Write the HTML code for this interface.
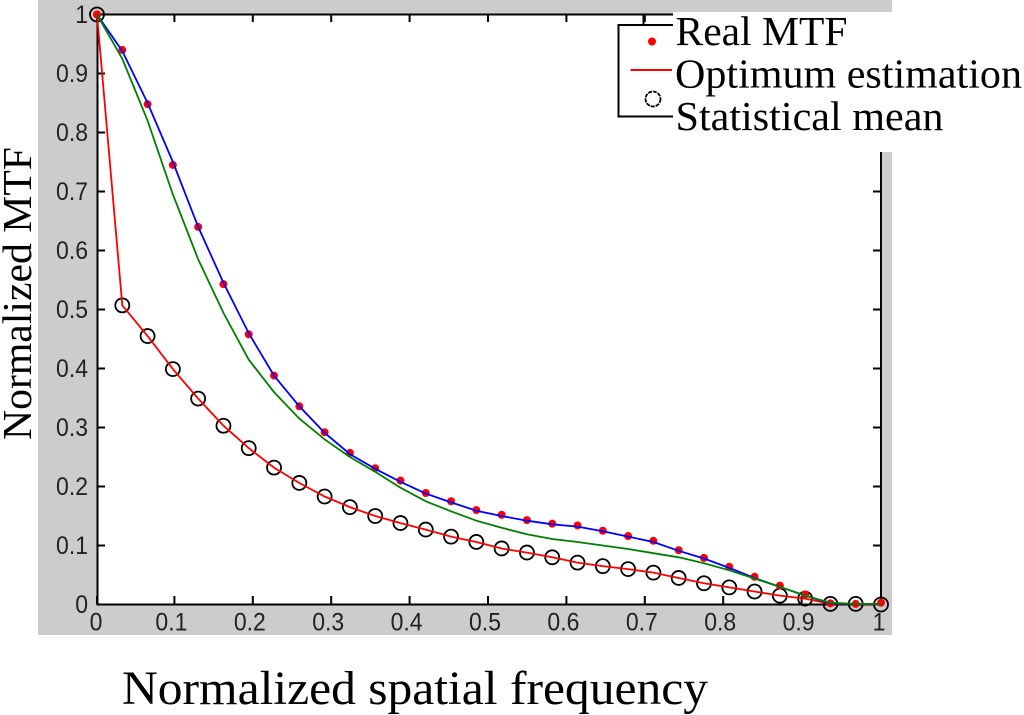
<!DOCTYPE html>
<html>
<head>
<meta charset="utf-8">
<title>Normalized MTF chart</title>
<style>
html,body{margin:0;padding:0;background:#fff;}
svg{display:block;filter:blur(0.3px);}
text{font-family:"Liberation Sans",sans-serif;}
.serif{font-family:"Liberation Serif",serif;fill:#000;font-size:41px;}
.tick-label{font-size:23px;fill:#222;}
</style>
</head>
<body>
<svg id="chart" xmlns="http://www.w3.org/2000/svg" width="1024" height="715" viewBox="0 0 1024 715">
  <rect x="38" y="0" width="854" height="635" fill="#cccccc"/>
  <rect x="97" y="14" width="784" height="590" fill="#ffffff"/>
  <g id="axes"></g>
  <g id="marks"></g>
  <rect x="673" y="12" width="351" height="140" fill="#ffffff"/>
  <path d="M643.500 14V25" stroke="#000" stroke-width="2" fill="none"/>
  <path d="M600 14.500H673M673 25H618.500V116.500H673" stroke="#000" stroke-width="2" fill="none"/>
  <circle cx="652" cy="41.500" r="4" fill="#ff0000"/>
  <line x1="630.500" y1="70" x2="672" y2="70" stroke="#ff0000" stroke-width="2"/>
  <circle cx="653" cy="99" r="7.500" fill="none" stroke="#000" stroke-width="1.800" stroke-dasharray="4 1"/>
  <text class="serif" x="675.500" y="45" textLength="172" lengthAdjust="spacingAndGlyphs">Real MTF</text>
  <text class="serif" x="675" y="87.500" textLength="347" lengthAdjust="spacingAndGlyphs">Optimum estimation</text>
  <text class="serif" x="675.500" y="130" textLength="268" lengthAdjust="spacingAndGlyphs">Statistical mean</text>
  <text class="serif" x="122" y="704" textLength="586" lengthAdjust="spacingAndGlyphs" style="font-size:48px">Normalized spatial frequency</text>
  <text class="serif" transform="translate(31,440) rotate(-90)" x="0" y="0" textLength="293" lengthAdjust="spacingAndGlyphs">Normalized MTF</text>
</svg>
<script>
var realMtf = [1, .94, .848, .745, .64, .543, .458, .388, .336, .292, .257, .231, .21, .189, .175, .16, .152, .143, .137, .134, .125, .116, .108, .092, .079, .064, .047, .032, .017, .002, .001, .003];
var blueCurve = [1, .938, .85, .75, .64, .545, .46, .388, .336, .291, .255, .23, .208, .188, .173, .159, .15, .142, .136, .132, .124, .115, .106, .091, .078, .062, .045, .03, .015, .002, .001, .001];
var greenCurve = [1, .925, .82, .695, .585, .494, .415, .36, .315, .28, .25, .225, .198, .175, .158, .142, .13, .119, .111, .106, .1, .094, .087, .08, .07, .058, .044, .03, .015, .003, .001, .001];
var statMean = [1, .507, .455, .399, .349, .303, .265, .232, .206, .183, .165, .15, .138, .127, .115, .106, .095, .088, .08, .071, .065, .06, .054, .045, .036, .029, .022, .015, .01, .001, .001, 0];
var xTicks = [0, .1, .2, .3, .4, .5, .6, .7, .8, .9, 1];
var yTicks = [0, .1, .2, .3, .4, .5, .6, .7, .8, .9, 1];
var tickText = ['0', '0.1', '0.2', '0.3', '0.4', '0.5', '0.6', '0.7', '0.8', '0.9', '1'];

var NS = 'http://www.w3.org/2000/svg';
function xScale(v) { return 97 + 784 * v; }
function yScale(v) { return 604.5 - 590 * v; }
function indexX(i, n) { return xScale(i / (n - 1)); }
function make(tag, attrs, parent) {
  var el = document.createElementNS(NS, tag);
  for (var k in attrs) { el.setAttribute(k, attrs[k]); }
  parent.appendChild(el);
  return el;
}
var axes = document.getElementById('axes');
var marks = document.getElementById('marks');

var axisFrame = make('path', { d: 'M97.500 14.500H881M97.500 14.500V604.500H881M881 152V604.500', stroke: '#000', 'stroke-width': 2, fill: 'none' }, axes);



xTicks.forEach(function (v, i) {
  var x = xScale(v) - (i > 0 && i < 10 ? 1 : 0);
  var tick = make('path', { d: 'M' + x + ' 604V596M' + x + ' 14V22', stroke: '#000', 'stroke-width': 2, fill: 'none' }, axes);
  
  
  var labelX = i === 0 ? x - 1 : (i === 10 ? x - 2 : x - 3);
  var label = make('text', { 'class': 'tick-label', 'text-anchor': 'middle', transform: 'translate(' + labelX + ',630.500) scale(1,1.080)' }, axes);
  label.textContent = tickText[i];
  
  
});

yTicks.forEach(function (v, i) {
  var y = yScale(v);
  var tick = make('path', { d: 'M97 ' + y + 'H105M881 ' + y + 'H873', stroke: '#000', 'stroke-width': 2, fill: 'none' }, axes);
  
  
  var label = make('text', { 'class': 'tick-label', 'text-anchor': 'end', transform: 'translate(88,' + (y + 8.500) + ') scale(1,1.080)' }, axes);
  label.textContent = tickText[i];
  
  
});

function linePath(values) {
  return values.map(function (v, i) {
    return (i ? 'L' : 'M') + indexX(i, values.length).toFixed(1) + ' ' + yScale(v).toFixed(1);
  }).join('');
}

statMean.forEach(function (v, i) {
  var c = make('circle', { cx: indexX(i, statMean.length), cy: yScale(v), r: 7, fill: 'none', stroke: '#000', 'stroke-width': 1.800 }, marks);
  
  
});

var redLine = make('path', { d: linePath(statMean), stroke: '#ff0000', 'stroke-width': 1.800, fill: 'none' }, marks);



realMtf.forEach(function (v, i) {
  var c = make('circle', { cx: indexX(i, realMtf.length), cy: yScale(v), r: 4, fill: '#ff0000' }, marks);
  
  
});

var blueLine = make('path', { d: linePath(blueCurve), stroke: '#0000ff', 'stroke-width': 1.800, fill: 'none' }, marks);



var greenLine = make('path', { d: linePath(greenCurve), stroke: '#008000', 'stroke-width': 1.800, fill: 'none' }, marks);


</script>
</body>
</html>
